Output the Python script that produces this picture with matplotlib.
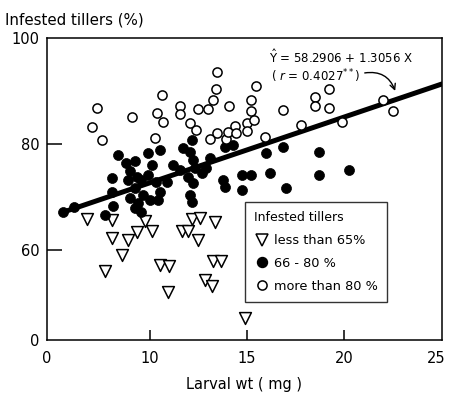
import numpy as np
import matplotlib
matplotlib.use("Agg")
import matplotlib.pyplot as plt
import matplotlib.transforms as mtransforms
from matplotlib.lines import Line2D

plt.rcParams['font.family'] = ['DejaVu Sans']
plt.rcParams['mathtext.fontset'] = 'dejavusans'

# less than 65 % infested tillers
low_x = [6.76, 8.08, 8.07, 8.86, 8.55, 9.32, 9.77, 10.09, 7.69, 10.53, 10.99, 10.94,
         11.63, 11.97, 12.14, 12.57, 12.48, 13.36, 13.25, 13.68, 12.82, 13.18, 14.88]
low_y = [65.8, 65.7, 62.2, 61.9, 59.1, 63.3, 65.5, 63.5, 56.0, 57.2, 57.0, 52.1,
         63.5, 63.5, 65.9, 66.1, 61.9, 65.3, 57.9, 57.9, 54.3, 53.1, 47.1]

# 66 - 80 %
mid_x = [5.55, 6.10, 7.69, 8.12, 8.08, 8.03, 8.37, 8.80, 9.23, 8.97, 8.89, 9.32,
         9.23, 9.57, 9.91, 10.51, 10.09, 9.91, 10.34, 10.51, 10.86, 8.97, 9.40, 9.66,
         9.23, 9.57, 10.00, 10.43, 12.14, 11.71, 12.05, 11.20, 11.54, 12.22, 12.31, 11.97,
         12.22, 13.08, 13.85, 14.28, 13.76, 13.85, 14.71, 15.22, 14.71, 15.99, 16.16, 12.05,
         12.14, 12.66, 12.91, 16.85, 17.02, 18.70, 18.70, 20.24]
mid_y = [67.2, 68.0, 66.6, 68.2, 71.0, 73.5, 77.9, 76.4, 76.7, 74.8, 73.2, 73.8,
         71.6, 73.2, 78.2, 78.9, 76.0, 74.2, 72.9, 71.0, 72.9, 69.8, 68.8, 70.4,
         67.9, 67.2, 69.4, 69.4, 80.8, 79.2, 78.5, 76.0, 75.1, 77.0, 75.4, 73.8,
         72.6, 77.3, 79.5, 79.8, 73.2, 71.9, 74.2, 74.2, 71.3, 78.2, 74.5, 70.4,
         69.1, 74.5, 75.4, 79.5, 71.7, 78.5, 74.1, 75.1]

# more than 80 %
high_x = [7.04, 7.30, 7.53, 9.09, 10.26, 10.36, 10.63, 10.67, 11.54, 11.54, 12.07, 12.36,
          12.49, 12.99, 13.11, 13.24, 13.39, 13.43, 13.47, 13.90, 14.03, 14.08, 14.37, 14.45,
          14.97, 14.97, 15.22, 15.22, 15.34, 15.47, 15.91, 16.85, 17.76, 18.47, 18.47, 19.21,
          19.21, 19.85, 21.98, 22.50]
high_y = [83.1, 86.7, 80.8, 85.0, 81.1, 85.9, 89.2, 84.1, 87.2, 85.6, 83.9, 82.6,
          86.5, 86.5, 80.9, 88.3, 90.3, 93.6, 82.0, 80.9, 82.3, 87.2, 83.3, 82.1,
          83.9, 82.5, 88.2, 86.2, 84.5, 90.9, 81.3, 86.4, 83.6, 88.9, 87.2, 90.3,
          86.7, 84.2, 88.3, 86.2]

# fitted line as drawn
fit_x = [5.45, 25.0]
fit_y = [67.0, 91.3]

x_ticks = [4.7, 10, 15, 20, 25]
x_labels = ['0', '10', '15', '20', '25']
y_ticks = [43, 60, 80, 100]
y_labels = ['0', '60', '80', '100']

fig = plt.figure(figsize=(4.49, 3.99), dpi=100)
ax = fig.add_axes([0.104, 0.148, 0.880, 0.757])

ax.plot(fit_x, fit_y, color='black', lw=3.6, solid_capstyle='round', zorder=2)
ax.scatter(low_x, low_y, marker='v', s=8.5**2, facecolor='white', edgecolor='black',
           linewidth=1.1, zorder=3)
ax.scatter(mid_x, mid_y, marker='o', s=7.2**2, facecolor='black', edgecolor='black',
           linewidth=0.5, zorder=3)
ax.scatter(high_x, high_y, marker='o', s=6.6**2, facecolor='white', edgecolor='black',
           linewidth=1.1, zorder=3)

ax.set_xlim(x_ticks[0], x_ticks[-1])
ax.set_ylim(y_ticks[0], y_ticks[-1])
ax.set_xticks(x_ticks)
ax.set_xticklabels(x_labels)
ax.set_yticks(y_ticks)
ax.set_yticklabels(y_labels)
ax.tick_params(axis='x', direction='in', length=7.5, width=1.1, pad=8, labelsize=10.5)
ax.tick_params(axis='y', direction='in', length=11, width=1.1, pad=5, labelsize=10.5)
# the corner labels have no tick marks
for t in (ax.xaxis.get_major_ticks()[0], ax.xaxis.get_major_ticks()[-1],
          ax.yaxis.get_major_ticks()[0], ax.yaxis.get_major_ticks()[-1]):
    t.tick1line.set_visible(False)
# nudge the "25" a little so it stays inside the figure
last = ax.get_xticklabels()[-1]
last.set_transform(last.get_transform() +
                   mtransforms.ScaledTranslation(-4 / 72, 0, fig.dpi_scale_trans))
for s in ax.spines.values():
    s.set_linewidth(1.1)

fig.text(0.011, 0.95, 'Infested tillers (%)', fontsize=10.8, va='center', ha='left')
ax.set_xlabel('Larval wt ( mg )', fontsize=10.5, labelpad=8)

ax.text(16.1, 96.4, r'$\hat{\mathrm{Y}}$ = 58.2906 + 1.3056 X', fontsize=8.5, va='center')
ax.text(16.2, 92.7, r'( $r$ = 0.4027$^{**}$)', fontsize=8.5, va='center')
ax.annotate('', xy=(22.65, 89.5), xytext=(20.9, 93.3),
            arrowprops=dict(arrowstyle='->', color='black', lw=1.0,
                            connectionstyle='arc3,rad=-0.45'))

handles = [
    Line2D([], [], ls='none', marker='v', markersize=8.5, markerfacecolor='white',
           markeredgecolor='black', markeredgewidth=1.1),
    Line2D([], [], ls='none', marker='o', markersize=7.2, markerfacecolor='black',
           markeredgecolor='black'),
    Line2D([], [], ls='none', marker='o', markersize=6.6, markerfacecolor='white',
           markeredgecolor='black', markeredgewidth=1.1),
]
leg = ax.legend(handles, ['less than 65%', '66 - 80 %', 'more than 80 %'],
                title='Infested tillers', loc='lower left', bbox_to_anchor=(0.502, 0.127),
                borderaxespad=0, fontsize=9.3, title_fontsize=9, frameon=True,
                fancybox=False, edgecolor='black', handletextpad=0.35, handlelength=1.2,
                labelspacing=0.75, borderpad=0.7, alignment='left')
leg.get_frame().set_linewidth(1.0)

fig.savefig('out.png', dpi=100)
